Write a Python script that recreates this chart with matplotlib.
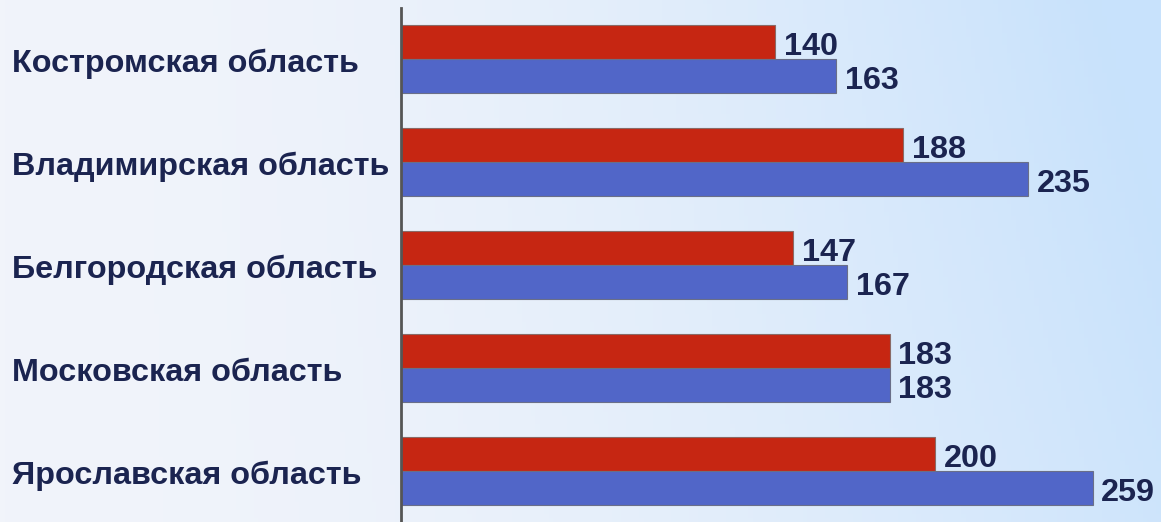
import matplotlib.pyplot as plt
import matplotlib.transforms as mtransforms
import numpy as np

# data
regions = ["Костромская область", "Владимирская область", "Белгородская область",
           "Московская область", "Ярославская область"]
red_vals = [140, 188, 147, 183, 200]
blue_vals = [163, 235, 167, 183, 259]

red_col = "#C62612"
blue_col = "#5166C8"
txt_col = "#1B2450"

plt.rcParams['font.family'] = ['Liberation Sans', 'DejaVu Sans']

fig = plt.figure(figsize=(11.61, 5.22), dpi=100)

# background gradient
bg = fig.add_axes([0, 0, 1, 1], zorder=-10)
gx = np.linspace(0, 1, 256)
gy = np.linspace(0, 1, 128)
X, Y = np.meshgrid(gx, gy)
t = np.clip(0.85 * X ** 1.8 + 0.25 * (1 - Y) * X ** 2, 0, 1)
left = np.array([241, 244, 250]) / 255.
right = np.array([200, 226, 252]) / 255.
img = left[None, None, :] * (1 - t[..., None]) + right[None, None, :] * t[..., None]
bg.imshow(img, aspect='auto', extent=[0, 1, 0, 1], origin='upper')
bg.axis('off')

ax = fig.add_axes([401 / 1161, 0, 1 - 401 / 1161, 1 - 8 / 522])
ax.patch.set_alpha(0)

y = np.arange(len(regions))
h = 0.33
ax.barh(y - h / 2, red_vals, height=h, color=red_col, edgecolor="#8a6a66", linewidth=0.8)
ax.barh(y + h / 2, blue_vals, height=h, color=blue_col, edgecolor="#6a6f88", linewidth=0.8)

ax.set_xlim(0, (1161 - 401) / 2.67)
ax.set_ylim((522 - 59) / 103, -(59 - 8) / 103)

fs = 23.3
dy = 0.045
for i in range(len(regions)):
    ax.text(red_vals[i] + 3.3, y[i] - h / 2 + dy, str(red_vals[i]), va='center', ha='left',
            fontsize=fs, fontweight='bold', color=txt_col)
    ax.text(blue_vals[i] + 3.3, y[i] + h / 2 + dy, str(blue_vals[i]), va='center', ha='left',
            fontsize=fs, fontweight='bold', color=txt_col)

trans = mtransforms.blended_transform_factory(fig.transFigure, ax.transData)
for i, name in enumerate(regions):
    ax.text(12 / 1161, y[i] + dy, name, transform=trans, va='center', ha='left',
            fontsize=fs, fontweight='bold', color=txt_col)

for s in ['top', 'right', 'bottom']:
    ax.spines[s].set_visible(False)
ax.spines['left'].set_color('#555555')
ax.spines['left'].set_linewidth(2)
ax.set_xticks([])
ax.set_yticks([])

fig.savefig("out.png", dpi=100)
